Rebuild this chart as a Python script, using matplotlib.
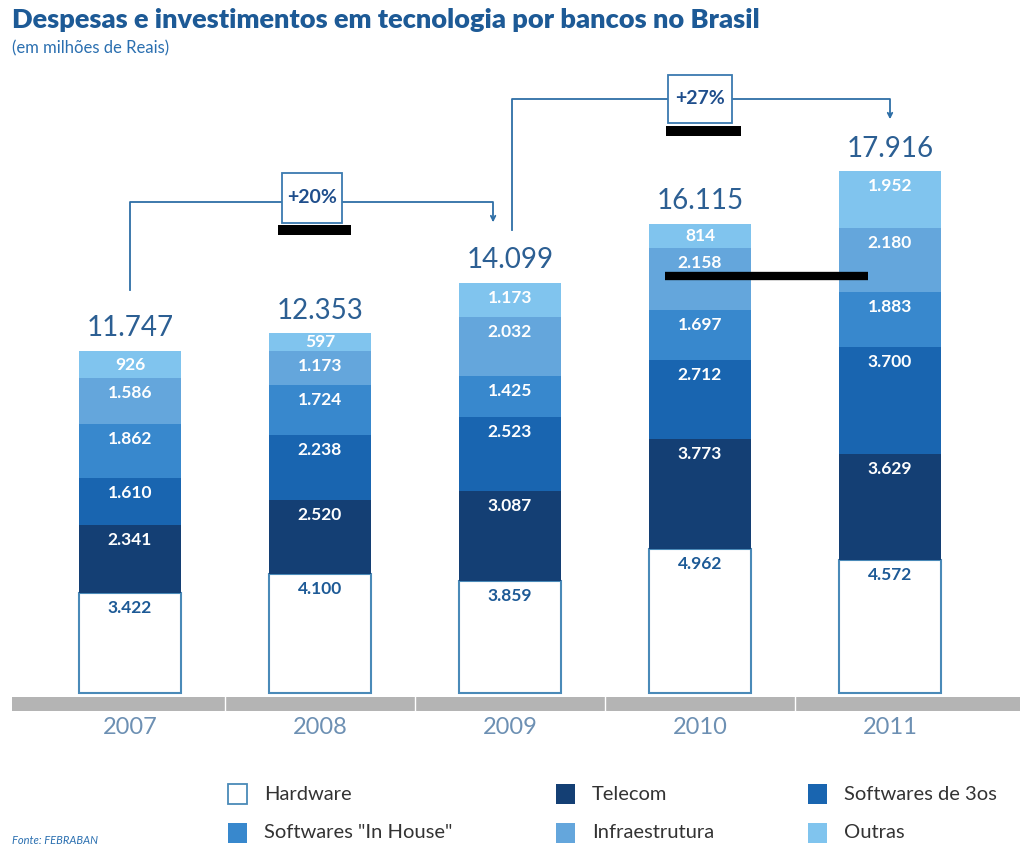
import matplotlib.pyplot as plt
from matplotlib.patches import Rectangle
import numpy as np

#- Data (milhoes de Reais)
years = ['2007', '2008', '2009', '2010', '2011']
totals = ['11.747', '12.353', '14.099', '16.115', '17.916']
series = ['Hardware', 'Telecom', 'Softwares de 3os', 'Softwares "In House"', 'Infraestrutura', 'Outras']
hardware = [3422, 4100, 3859, 4962, 4572]
telecom = [2341, 2520, 3087, 3773, 3629]
soft3os = [1610, 2238, 2523, 2712, 3700]
inhouse = [1862, 1724, 1425, 1697, 1883]
infra = [1586, 1173, 2032, 2158, 2180]
outras = [926, 597, 1173, 814, 1952]
growth = ['+20%', '+27%']

colors = ['white', '#143f74', '#1965b0', '#3888cd', '#64a6dc', '#80c4ee']
blue_txt = '#1d5a96'
plt.rcParams['font.family'] = ['Lato', 'DejaVu Sans']

W, H = 1029, 849
fig = plt.figure(figsize=(W/100, H/100), dpi=100)
px = 0.02911  # pixels per unit
# axes from x=12..1020 px, y=711..60 px
ax = fig.add_axes([12/W, (H-711)/H, 1008/W, 651/H])
ax.set_xlim((12-130)/190., (1020-130)/190.)
ax.set_ylim(-18/px, (693-60)/px)
ax.axis('off')

x = np.arange(len(years))
data = [hardware, telecom, soft3os, inhouse, infra, outras]
bottom = np.zeros(len(years))
for k, vals in enumerate(data):
    vals = np.array(vals, dtype=float)
    if k == 0:
        ax.bar(x, vals, 0.542, bottom=bottom, color='white', edgecolor='#4a8ab8', lw=1.5, zorder=2)
    else:
        ax.bar(x, vals, 0.542, bottom=bottom, color=colors[k], lw=0, zorder=2)
    for i in range(len(years)):
        top = bottom[i] + vals[i]
        off = min(15/px, vals[i]/2.)
        lab = '{:,}'.format(int(vals[i])).replace(',', '.')
        ax.text(x[i], top-off, lab, ha='center', va='center', fontsize=12.5, fontweight='bold',
                color=blue_txt if k == 0 else 'white', zorder=3)
    bottom += vals

for i in range(len(years)):
    ax.text(x[i], bottom[i]+330, totals[i], ha='center', va='bottom', fontsize=20, color='#2c5f93')

#- gray base band with year labels
ax.axhspan(-18/px, -4/px, xmin=0, xmax=1, color='#b4b4b4', lw=0, zorder=1)
for s in x[:-1]+0.5:
    ax.plot([s, s], [-18/px, -4/px], color='white', lw=1, zorder=1)
for i in range(len(years)):
    ax.text(x[i], -34/px, years[i], ha='center', va='center', fontsize=17, color='#6d90b3')

#- growth brackets
lc = '#2e6ea6'
ax.plot([0, 0, 1.911, 1.911], [13844, 16867, 16867, 16300], color=lc, lw=1.3, zorder=1)
ax.annotate('', xy=(1.911, 16077), xytext=(1.911, 16400),
            arrowprops=dict(arrowstyle='->', color=lc, lw=1.3, mutation_scale=8))
ax.plot([2.011, 2.011, 4.0, 4.0], [15905, 20405, 20405, 19900], color=lc, lw=1.3, zorder=1)
ax.annotate('', xy=(4.0, 19615), xytext=(4.0, 20000),
            arrowprops=dict(arrowstyle='->', color=lc, lw=1.3, mutation_scale=8))

boxes = [(0.8, 16146, 0.316, 1717), (2.832, 19581, 0.336, 1649)]
bars = [(0.779, 15733, 0.384, 344), (2.821, 19134, 0.395, 344)]
for (bx, by, bw, bh), (kx, ky, kw, kh), g in zip(boxes, bars, growth):
    ax.add_patch(Rectangle((bx, by), bw, bh, facecolor='white', edgecolor='#3a7ab0', lw=1.3, zorder=4))
    ax.text(bx+bw/2, by+bh/2, g, ha='center', va='center', fontsize=14, fontweight='bold',
            color='#1f4e8c', zorder=5)
    ax.add_patch(Rectangle((kx, ky), kw, kh, facecolor='black', lw=0, zorder=4))
ax.plot([2.816, 3.884], [14325, 14325], color='black', lw=6, solid_capstyle='butt', zorder=4)

#- titles
fig.text(12/W, 1-20/H, 'Despesas e investimentos em tecnologia por bancos no Brasil',
         fontsize=19.5, fontweight='heavy', color=blue_txt, va='center', ha='left')
fig.text(12/W, 1-48/H, '(em milhões de Reais)', fontsize=12, color='#2a6fb0', va='center', ha='left')
fig.text(12/W, 1-840/H, 'Fonte: FEBRABAN', fontsize=8, style='italic', color='#2a6fb0', va='center', ha='left')

#- legend
col_x = [228, 556, 808]
row_y = [794, 833]
for k in range(len(series)):
    cx = col_x[k % 3]
    ry = row_y[k // 3]
    fig.patches.append(Rectangle((cx/W, 1-(ry+10)/H), 19/W, 20/H, transform=fig.transFigure,
                                 facecolor=colors[k], edgecolor='#4a8ab8' if k == 0 else colors[k],
                                 lw=1.3 if k == 0 else 0))
    fig.text((cx+36)/W, 1-ry/H, series[k], fontsize=14.5, color='#333333', va='center', ha='left')

fig.savefig('out.png', dpi=100)
